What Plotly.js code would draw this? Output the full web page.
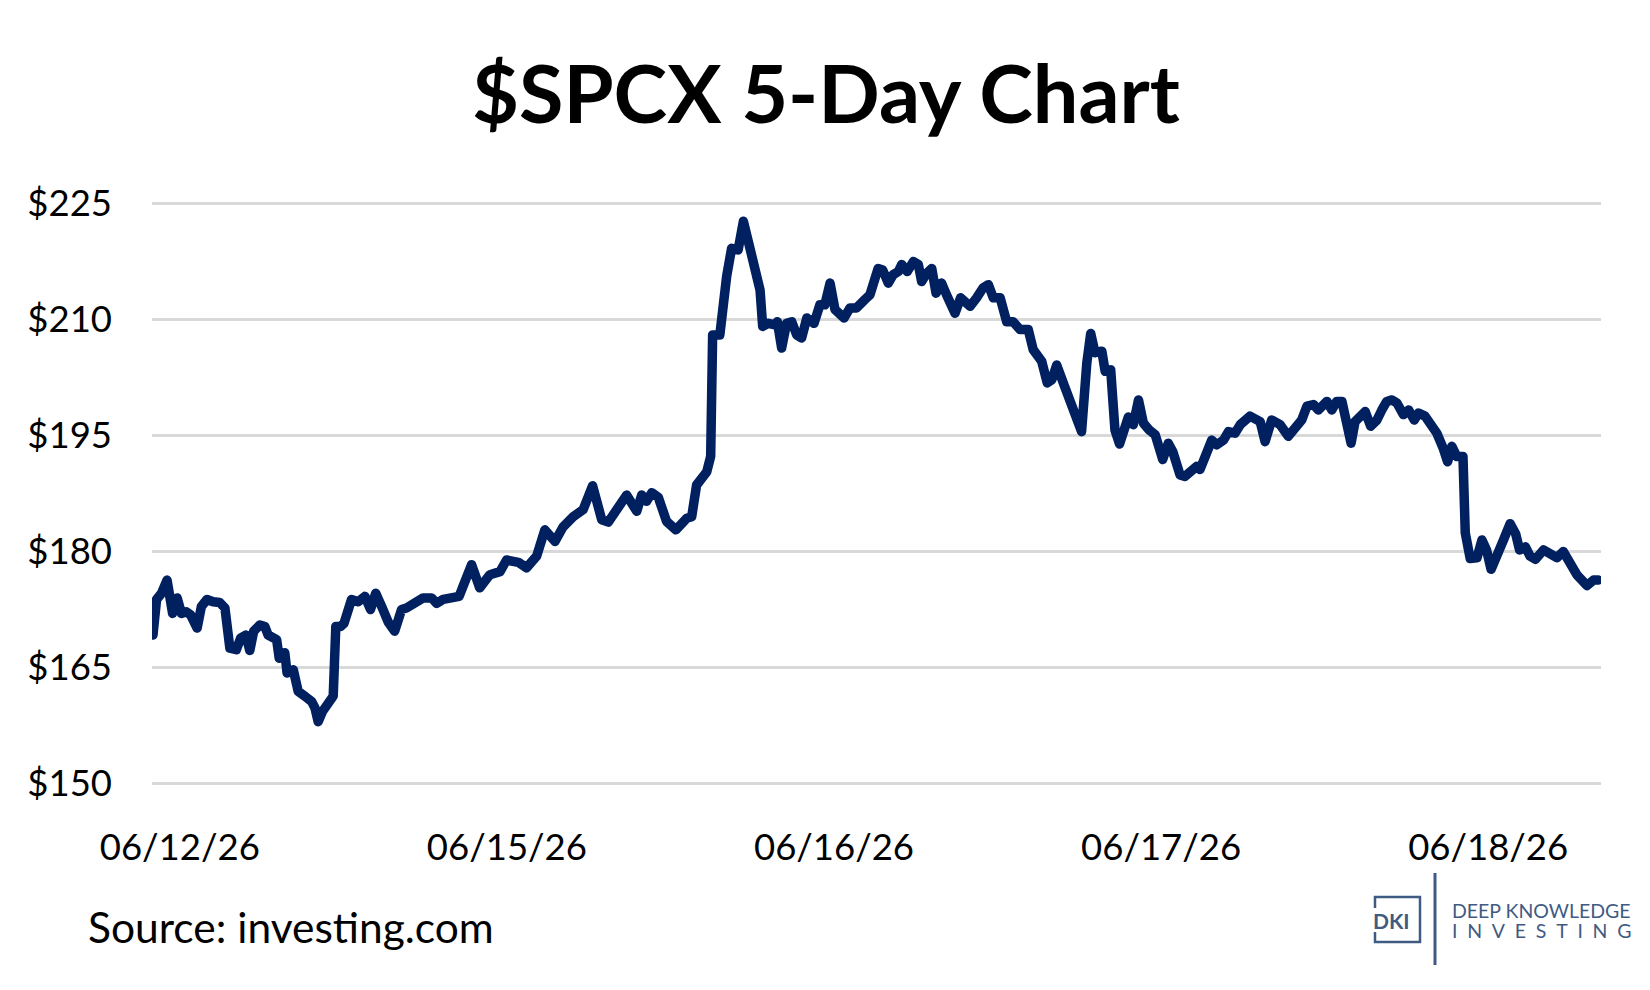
<!DOCTYPE html>
<html>
<head>
<meta charset="utf-8">
<title>$SPCX 5-Day Chart</title>
<script src="https://cdn.plot.ly/plotly-3.0.1.min.js"></script>
<style>
  html, body { margin: 0; padding: 0; background: #fff; }
  #chart { width: 1650px; height: 990px; }
  /* round joins so the thick price line has no miter spikes */
  #chart .js-line { stroke-linejoin: round; stroke-linecap: round; }
</style>
</head>
<body>
<div id="chart"></div>
<script>
// ─── Data ───────────────────────────────────────────────────────────
// time in trading days, counted from the 06/12/26 label
const dayOffset = [
  -0.082, -0.071, -0.056, -0.039, -0.022, -0.008, 0.005, 0.020, 0.033, 0.053,
  0.066, 0.083, 0.102, 0.122, 0.138, 0.153, 0.173, 0.186, 0.202, 0.214,
  0.226, 0.245, 0.260, 0.270, 0.296, 0.304, 0.321, 0.328, 0.347, 0.362,
  0.382, 0.403, 0.413, 0.423, 0.436, 0.454, 0.469, 0.477, 0.491, 0.502,
  0.525, 0.545, 0.566, 0.583, 0.599, 0.617, 0.637, 0.657, 0.678, 0.693,
  0.713, 0.744, 0.770, 0.785, 0.805, 0.831, 0.854, 0.866, 0.892, 0.917,
  0.948, 0.979, 0.999, 1.035, 1.060, 1.091, 1.116, 1.147, 1.172, 1.203,
  1.233, 1.262, 1.290, 1.310, 1.335, 1.366, 1.397, 1.412, 1.427, 1.443,
  1.463, 1.488, 1.517, 1.550, 1.565, 1.580, 1.611, 1.623, 1.629, 1.651,
  1.672, 1.687, 1.707, 1.723, 1.738, 1.758, 1.774, 1.782, 1.799, 1.820,
  1.827, 1.840, 1.855, 1.871, 1.886, 1.901, 1.917, 1.939, 1.957, 1.972,
  1.988, 2.003, 2.018, 2.031, 2.049, 2.069, 2.095, 2.110, 2.135, 2.149,
  2.166, 2.181, 2.197, 2.207, 2.224, 2.243, 2.258, 2.268, 2.284, 2.299,
  2.312, 2.329, 2.344, 2.370, 2.387, 2.416, 2.436, 2.456, 2.472, 2.487,
  2.508, 2.528, 2.548, 2.569, 2.594, 2.609, 2.635, 2.652, 2.666, 2.681,
  2.701, 2.732, 2.757, 2.773, 2.785, 2.798, 2.819, 2.829, 2.846, 2.859,
  2.873, 2.900, 2.915, 2.931, 2.946, 2.964, 2.982, 3.005, 3.022, 3.036,
  3.058, 3.073, 3.094, 3.109, 3.119, 3.140, 3.155, 3.170, 3.191, 3.206,
  3.226, 3.242, 3.272, 3.303, 3.318, 3.338, 3.364, 3.389, 3.410, 3.430,
  3.446, 3.466, 3.481, 3.507, 3.522, 3.537, 3.553, 3.568, 3.581, 3.593,
  3.609, 3.624, 3.641, 3.660, 3.675, 3.690, 3.706, 3.721, 3.741, 3.757,
  3.774, 3.787, 3.807, 3.828, 3.843, 3.862, 3.876, 3.889, 3.904, 3.923,
  3.930, 3.945, 3.966, 3.981, 3.995, 4.009, 4.029, 4.047, 4.067, 4.084,
  4.096, 4.114, 4.128, 4.145, 4.169, 4.190, 4.210, 4.230, 4.251, 4.271,
  4.302, 4.322, 4.337
];

const price = [
  169.2, 173.8, 174.6, 176.3, 172.0, 174.0, 172.0, 172.2, 171.8, 170.1,
  172.9, 173.8, 173.5, 173.4, 172.7, 167.5, 167.3, 168.8, 169.2, 167.2,
  169.7, 170.5, 170.3, 169.2, 168.6, 166.2, 166.9, 164.3, 164.7, 161.9,
  161.3, 160.6, 159.8, 158.0, 159.3, 160.6, 161.3, 170.3, 170.3, 170.7,
  173.8, 173.5, 174.2, 172.5, 174.6, 172.9, 170.9, 169.7, 172.5, 172.7,
  173.3, 174.0, 174.0, 173.3, 173.8, 174.0, 174.2, 175.5, 178.3, 175.3,
  177.0, 177.4, 178.9, 178.6, 177.9, 179.4, 182.8, 181.3, 183.2, 184.5,
  185.4, 188.5, 184.1, 183.8, 185.2, 187.3, 185.2, 187.3, 186.5, 187.6,
  187.0, 183.9, 182.8, 184.3, 184.5, 188.6, 190.3, 192.3, 208.0, 208.0,
  215.6, 219.2, 219.0, 222.7, 220.1, 216.0, 213.8, 209.1, 209.5, 209.3,
  209.7, 206.3, 209.5, 209.7, 208.0, 207.6, 210.2, 209.5, 211.9, 211.9,
  214.7, 211.3, 210.6, 210.2, 211.5, 211.5, 212.6, 213.2, 216.6, 216.4,
  214.7, 215.8, 216.2, 217.1, 216.2, 217.5, 217.1, 214.9, 216.0, 216.6,
  213.4, 214.7, 213.2, 210.8, 212.8, 211.7, 212.8, 214.1, 214.5, 212.8,
  212.8, 209.7, 209.7, 208.7, 208.7, 206.1, 204.6, 201.8, 202.2, 204.1,
  201.8, 198.1, 195.5, 204.4, 208.2, 205.7, 205.9, 203.3, 203.5, 195.7,
  193.9, 197.4, 196.4, 199.6, 196.6, 195.7, 195.1, 191.9, 194.0, 192.9,
  189.9, 189.7, 190.3, 191.0, 190.6, 193.4, 194.4, 193.8, 194.4, 195.5,
  195.3, 196.4, 197.5, 196.8, 194.2, 197.0, 196.4, 194.9, 196.0, 197.0,
  198.8, 199.0, 198.3, 199.4, 198.3, 199.4, 199.4, 196.6, 194.0, 196.8,
  197.5, 198.1, 196.2, 197.0, 198.3, 199.4, 199.6, 199.2, 197.7, 198.3,
  197.0, 197.9, 197.5, 196.4, 195.3, 193.4, 191.6, 193.6, 192.3, 192.3,
  182.4, 179.1, 179.2, 181.5, 180.2, 177.7, 179.4, 181.5, 183.6, 182.3,
  180.2, 180.6, 179.4, 179.0, 180.2, 179.6, 179.2, 180.0, 178.5, 177.0,
  175.6, 176.3, 176.3
];

const tickDays = [0, 1, 2, 3, 4];
const tickLabels = ['06/12/26', '06/15/26', '06/16/26', '06/17/26', '06/18/26'];
const priceTicks = [150, 165, 180, 195, 210, 225];
const priceTickLabels = priceTicks.map(v => '$' + v);

// ─── Style ───────────────────────────────────────────────────────────
const FONT = 'Lato, "Open Sans", sans-serif';
const NAVY = '#002060';
const LOGO = '#3f5b82';
const GRID = '#d9d9d9';

const W = 1650, H = 990;
const M = { l: 152, r: 49, t: 188, b: 191 };

// pixel -> paper helpers for the decorations outside the plot area
const px = x => (x - M.l) / (W - M.l - M.r);
const py = y => (H - M.b - y) / (H - M.t - M.b);

const trace = {
  x: dayOffset,
  y: price,
  type: 'scatter',
  mode: 'lines',
  line: { color: NAVY, width: 9.5, shape: 'linear' },
  hoverinfo: 'skip',
  showlegend: false
};

// logo: box with a gap on the left where "DKI" sits, plus divider line
const boxPath = 'M ' + px(1375) + ' ' + py(908) +
  ' L ' + px(1375) + ' ' + py(897) +
  ' L ' + px(1420) + ' ' + py(897) +
  ' L ' + px(1420) + ' ' + py(942) +
  ' L ' + px(1375) + ' ' + py(942) +
  ' L ' + px(1375) + ' ' + py(932);

const layout = {
  width: W,
  height: H,
  margin: M,
  paper_bgcolor: '#ffffff',
  plot_bgcolor: '#ffffff',
  font: { family: FONT, color: '#000000' },
  title: {
    text: '$SPCX 5-Day Chart',
    font: { family: FONT, size: 81, weight: 'bold', color: '#000000' },
    x: 826 / W,
    xanchor: 'center',
    xref: 'container',
    y: 1 - 95 / H,
    yanchor: 'middle',
    yref: 'container'
  },
  xaxis: {
    range: [-0.085, 4.345],
    tickvals: tickDays,
    ticktext: tickLabels,
    tickfont: { family: FONT, size: 36.5, color: '#000000' },
    ticklabelstandoff: 23,
    showgrid: false,
    zeroline: false,
    showline: false,
    ticks: ''
  },
  yaxis: {
    range: [148, 227],
    tickvals: priceTicks,
    ticktext: priceTickLabels,
    tickfont: { family: FONT, size: 36.5, color: '#000000' },
    ticklabelstandoff: 39,
    showgrid: true,
    gridcolor: GRID,
    gridwidth: 2.5,
    zeroline: false,
    showline: false,
    ticks: ''
  },
  shapes: [
    { type: 'path', xref: 'paper', yref: 'paper', path: boxPath,
      line: { color: LOGO, width: 2.5 } },
    { type: 'line', xref: 'paper', yref: 'paper',
      x0: px(1435), x1: px(1435), y0: py(873), y1: py(965),
      line: { color: LOGO, width: 3 } }
  ],
  annotations: [
    { text: 'Source: investing.com', xref: 'paper', yref: 'paper',
      x: px(86), y: py(926), xanchor: 'left', yanchor: 'middle',
      showarrow: false, font: { family: FONT, size: 42.5, color: '#000000' } },
    { text: '<b>DKI</b>', xref: 'paper', yref: 'paper',
      x: px(1391), y: py(921), xanchor: 'center', yanchor: 'middle',
      showarrow: false, font: { family: FONT, size: 21, color: LOGO } },
    { text: 'DEEP KNOWLEDGE', xref: 'paper', yref: 'paper',
      x: px(1450), y: py(910), xanchor: 'left', yanchor: 'middle',
      showarrow: false, font: { family: FONT, size: 19.5, color: LOGO } },
    { text: 'I\u2002N\u2002V\u2002E\u2002S\u2002T\u2002I\u2002N\u2002G', xref: 'paper', yref: 'paper',
      x: px(1450), y: py(930), xanchor: 'left', yanchor: 'middle',
      showarrow: false, font: { family: FONT, size: 19.5, color: LOGO } }
  ]
};

Plotly.newPlot('chart', [trace], layout, { displayModeBar: false, staticPlot: true });
</script>
</body>
</html>
